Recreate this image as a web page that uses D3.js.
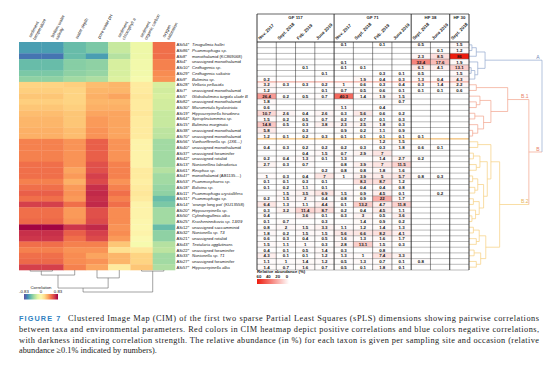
<!DOCTYPE html>
<html><head><meta charset="utf-8">
<script src="https://cdn.jsdelivr.net/npm/d3@7"></script>
<style>body{margin:0;background:#fff} svg{display:block}</style>
</head><body>
<svg id="c" width="554" height="367"></svg>
<script>
const envParams = [["sediment","temperature"],["bottom water","salinity"],["water depth",""],["pore water pH",""],["sediment","chlorophyll a"],["sediment","organic carbon"],["oxygen","saturation"]];
const taxaCodes = ["ASi54*","ASi86*","ASi8*","ASi4*","ASi10*","ASi29*","ASi9*","ASi28*","ASi7*","ASi5*","ASi82*","ASi30*","ASi19*","ASi64*","ASi15*","ASi38*","ASi70*","ASi56*","ASi40*","ASi37*","ASi42*","ASi13*","ASi61*","ASi47*","ASi53*","ASi18*","ASi11*","ASi31*","ASi14*","ASi20*","ASi50*","ASi25*","ASi12*","ASi32*","ASi21*","ASi43*","ASi22*","ASi33*","ASi27*","ASi57*"];
const taxaNames = ["Tinogullmia hallei","Psammophaga sp.","monothalamid (KC869068)","unassigned monothalamid","Cedhagenia sp.","Cedhagenia saltatrix","Bulimina sp.","Vellaria pellucida","unassigned monothalamid","Globobulimina turgida clade B","unassigned monothalamid","Micrometula hyalostriata","Hippocrepinella hirudinea","Spiroplectammina sp.","Bulimina marginata","unassigned monothalamid","unassigned monothalamid","Vanhoeffenella sp. (JX6…)","unassigned monothalamid","unassigned foraminifer","unassigned rotaliid","Nonionellina labradorica","Reophax sp.","monothalamid (AB1135…)","Psammosphaera sp.","Bolivina sp.","Psammophaga crystallifera","Psammophaga sp.","'orange long pot' (KU13558)","Hippocrepinella sp.","Cylindrogullmia alba","Krasheninnikovia sp. 13/09","unassigned saccamminid","Nonionella sp. T3","unassigned rotaliid","Textularia agglutinans","unassigned foraminifer","Nonionella sp. T1","unassigned foraminifer","Hippocrepinella alba"];
const clusterOf = ["A","A","A","A","A","A","A","B.1","B.1","B.1","B.1","B.1","B.1","B.1","B.1","B.1","B.1","B.2","B.2","B.2","B.2","B.2","B.2","B.2","B.2","B.2","B.2","B.2","B.2","B.2","B.2","B.2","B.2","B.2","B.2","B.2","B.2","B.2","B.2","B.2"];
const corr = [
[-0.6,-0.6,-0.5,-0.45,-0.25,-0.1,0.5],
[-0.6,-0.6,-0.5,-0.45,-0.25,-0.1,0.5],
[-0.72,-0.72,-0.5,-0.6,-0.3,-0.1,0.5],
[-0.5,-0.5,-0.42,-0.4,-0.2,-0.08,0.45],
[-0.5,-0.5,-0.42,-0.4,-0.2,-0.08,0.45],
[-0.45,-0.45,-0.4,-0.38,-0.2,-0.08,0.42],
[-0.4,-0.4,-0.35,-0.32,-0.18,-0.05,0.4],
[0.2,0.2,0.22,0.28,0.3,0.1,-0.2],
[0.22,0.22,0.2,0.3,0.3,0.1,-0.22],
[0.25,0.25,0.2,0.32,0.35,0.12,-0.2],
[0.22,0.22,0.2,0.3,0.3,0.1,-0.22],
[0.25,0.25,0.22,0.32,0.32,0.1,-0.22],
[0.28,0.28,0.25,0.35,0.35,0.12,-0.25],
[0.3,0.3,0.25,0.38,0.35,0.1,-0.25],
[0.3,0.3,0.25,0.38,0.35,0.1,-0.25],
[0.32,0.32,0.28,0.4,0.35,0.1,-0.28],
[0.32,0.32,0.28,0.4,0.35,0.1,-0.28],
[0.45,0.45,0.4,0.55,0.4,0.05,-0.35],
[0.45,0.45,0.4,0.55,0.4,0.05,-0.35],
[0.45,0.45,0.4,0.55,0.4,0.05,-0.35],
[0.45,0.45,0.4,0.55,0.4,0.05,-0.35],
[0.5,0.5,0.4,0.6,0.45,0.05,-0.35],
[0.5,0.5,0.35,0.6,0.45,0.1,-0.3],
[0.5,0.5,0.38,0.65,0.45,0.1,-0.35],
[0.45,0.45,0.32,0.62,0.4,0.08,-0.35],
[0.5,0.5,0.38,0.7,0.45,0.1,-0.38],
[0.55,0.55,0.4,0.72,0.5,0.12,-0.4],
[0.5,0.5,0.38,0.7,0.45,0.1,-0.5],
[0.65,0.65,0.5,0.72,0.5,0.05,-0.45],
[0.5,0.5,0.38,0.6,0.42,0.05,-0.35],
[0.5,0.5,0.38,0.6,0.42,0.05,-0.35],
[0.52,0.52,0.4,0.62,0.42,0.03,-0.35],
[0.82,0.82,0.68,0.72,0.4,0.02,-0.5],
[0.7,0.7,0.55,0.65,0.42,0.05,-0.4],
[0.68,0.68,0.5,0.62,0.38,0.0,-0.4],
[0.5,0.5,0.45,0.45,0.25,-0.05,-0.3],
[0.45,0.45,0.4,0.4,0.15,0.12,-0.28],
[0.5,0.5,0.42,0.35,0.3,0.2,-0.35],
[0.52,0.52,0.42,0.4,0.3,0.2,-0.35],
[0.65,0.65,0.45,0.35,0.1,0.25,-0.32]
];
const sites = ["GF 117","GF 71","HF 38","HF 30"];
const siteCols = [4,4,2,1];
const dates = ["Nov. 2017","Sept. 2018","Feb. 2019","June 2019","Nov. 2017","Sept. 2018","Feb. 2019","June 2019","Sept. 2018","June 2019","Sept. 2018"];
const n = null;
const abund = [
[n,n,n,n,0.1,n,0.1,n,0.5,n,1.5],
[n,n,n,n,n,n,n,n,n,0.1,1.2],
[n,n,n,n,n,n,n,n,2.3,8.5,86],
[n,n,n,n,0.1,n,n,n,32.4,17.6,1.9],
[n,n,0.1,n,0.1,0.1,n,n,6.1,4.1,13.1],
[n,n,n,0.1,n,n,0.3,0.1,0.5,n,1.5],
[0.2,n,n,n,n,1.9,0.4,0.3,1.3,0.4,4.3],
[3.2,0.3,0.3,0.2,1,0.6,0.3,0.4,0.3,1.4,2.2],
[1.2,n,n,0.1,0.7,0.5,0.6,0.1,0.1,0.1,0.6],
[26.4,0.2,0.5,0.7,40.3,1.4,1.9,1.5,n,n,n],
[1.8,n,n,n,n,n,n,0.7,n,n,n],
[0.6,n,n,n,1.1,n,0.4,n,n,n,n],
[10.7,2.6,0.4,2.6,0.3,5.6,0.6,0.2,n,n,n],
[1.5,0.2,0.5,0.7,0.2,0.7,0.1,0.3,n,n,n],
[14.8,0.5,0.3,3.8,2.3,2.5,1.8,0.3,n,n,n],
[5.8,n,0.3,n,0.9,0.2,1.1,0.9,n,n,n],
[1.2,0.1,0.2,0.3,0.1,0.1,0.1,0.1,0.1,n,n],
[n,n,n,n,n,n,1.2,1.5,n,n,n],
[0.4,0.3,0.2,0.2,0.2,0.3,0.3,1.8,0.6,0.1,n],
[n,n,0.4,1.5,0.7,2.9,7,n,n,n,n],
[0.2,0.4,1.3,0.1,1.3,n,1.4,2.7,0.2,n,n],
[2.7,0.3,0.7,n,0.8,3.9,7,11.5,n,n,n],
[n,n,n,0.2,0.8,0.8,1.8,1.6,n,n,n],
[1,0.3,0.4,7,1,3.9,5,5.7,0.8,0.3,n],
[0.1,0.1,0.3,0.1,n,8.3,8.7,1.2,n,n,n],
[0.1,0.2,1.1,0.1,n,0.4,0.4,0.8,n,n,n],
[n,1.5,3.5,6.9,1.5,0.9,4.5,0.1,n,0.2,n],
[0.2,1.5,2,0.4,0.8,0.9,22,1.7,n,n,n],
[6.4,1.3,1.1,4.4,0.1,13.2,4.7,11.8,n,n,n],
[0.3,3.2,11.4,8.7,0.2,0.4,4.5,1.1,n,n,n],
[0.4,n,3.6,0.1,0.3,3,0.5,3.6,n,n,n],
[0.1,0.7,n,0.3,n,1.4,0.9,0.2,n,n,n],
[0.8,2,1.5,3.3,1.1,1.2,1.4,1.3,n,n,n],
[1.8,0.2,1.5,1.5,5.6,6.6,8.2,4.1,n,n,n],
[0.6,0.3,0.4,0.5,1.6,1.3,1.6,1.7,n,n,n],
[1.5,1.1,1,0.3,2.8,13.1,1.5,0.3,n,n,n],
[0.4,0.1,0.5,1.4,0.3,n,0.8,n,n,n,n],
[4.3,0.1,0.1,1.2,1.3,1,7.4,3.3,n,n,n],
[1.1,1,1.4,1.2,0.5,1.3,0.7,0.1,0.8,n,n],
[1.4,0.7,1.6,0.7,0.5,0.1,1.8,0.1,n,n,n]
];
// dendrograms: [height, left, right], leaves = row/column index
const rowTree = [1,
  [0.22,[0.1,[0.04,0,1],2],[0.12,3,[0.08,[0.03,4,5],6]]],
  [0.82,
    [0.53,[0.1,7,8],[0.3,[0.15,9,[0.1,10,11]],[0.2,[0.08,12,13],[0.12,14,[0.05,15,16]]]]],
    [0.42,
      [0.3,[0.12,17,18],[0.25,[0.15,[0.06,19,20],[0.1,21,22]],[0.2,[0.12,[0.05,23,24],[0.08,25,26]],[0.14,[0.06,27,28],[0.09,29,[0.04,30,31]]]]]],
      [0.23,[0.14,[0.06,32,33],[0.1,34,35]],[0.16,[0.07,36,37],[0.1,38,39]]]
    ]
  ]
];
const colTree = [1,[0.82,[0.23,[0.05,0,1],2],[0.36,3,4]],[0.05,5,6]];
// [label, own node height, parent node height]
const clusterLabels = [["A",0.22,1],["B.1",0.53,0.82],["B",0.82,1],["B.2",0.42,0.82]];
const corrTicks = [-0.83,0,0.83];
const abundTicks = [60,40,20,0];
const caption = [
 "Clustered Image Map (CIM) of the first two sparse Partial Least Squares (sPLS) dimensions showing pairwise correlations",
 "between taxa and environmental parameters. Red colors in CIM heatmap depict positive correlations and blue colors negative correlations,",
 "with darkness indicating correlation strength. The relative abundance (in %) for each taxon is given per sampling site and occasion (relative",
 "abundance \u22650.1% indicated by numbers)."
];

const svg = d3.select("#c");
const FONT = "Liberation Sans, Arial, sans-serif";
const nR = taxaCodes.length;
const yRow = d3.scaleBand().domain(d3.range(nR)).range([42,270]);
const xHeat = d3.scaleBand().domain(d3.range(envParams.length)).range([19,175]);
const corrColor = d3.scaleSequential(t => d3.interpolateSpectral(1 - t)).domain([-0.83,0.83]);

// heatmap
const g = svg.append("g");
corr.forEach((row,i)=>row.forEach((v,j)=>{
  g.append("rect").attr("x",xHeat(j)).attr("y",yRow(i)).attr("width",xHeat.bandwidth()+0.3).attr("height",yRow.bandwidth()+0.3).attr("fill",corrColor(v));
}));
// column labels
envParams.forEach((p,j)=>{
  const t = svg.append("text").attr("transform",`translate(${xHeat(j)+xHeat.bandwidth()/2+3},39) rotate(-62)`).attr("font-family",FONT).attr("font-size",4.3).attr("fill","#222");
  t.append("tspan").attr("x",0).attr("dy",p[1]? -2.5:0).text(p[0]);
  if(p[1]) t.append("tspan").attr("x",0).attr("dy",5).text(p[1]);
});
// row labels
taxaCodes.forEach((c,i)=>{
  const y = yRow(i)+yRow.bandwidth()/2+1.5;
  svg.append("text").attr("x",176.5).attr("y",y).attr("font-family",FONT).attr("font-size",4.2).attr("fill","#222").text(c);
  const nm = taxaNames[i];
  const upright = /^(unassigned|monothalamid|')/.test(nm);
  svg.append("text").attr("x",192).attr("y",y).attr("font-family",FONT).attr("font-size",4.2).attr("font-style",upright?"normal":"italic").attr("fill","#222").text(nm);
});

// dendrogram helper
function drawTree(tree, leafPos, hScale, horizontal, colorFn, parentG, sw, store){
  function walk(node){
    if(typeof node === "number") return {pos:leafPos(node), h:0, leaves:[node]};
    const a = walk(node[1]), b = walk(node[2]);
    const res = {pos:(a.pos+b.pos)/2, h:node[0], leaves:a.leaves.concat(b.leaves)};
    if(store) store[node[0]] = res.pos;
    const col = colorFn(res.leaves);
    [a,b].forEach(ch=>{
      const c2 = colorFn(ch.leaves);
      if(horizontal) parentG.append("line").attr("x1",hScale(ch.h)).attr("x2",hScale(res.h)).attr("y1",ch.pos).attr("y2",ch.pos).attr("stroke",c2).attr("stroke-width",sw);
      else parentG.append("line").attr("y1",hScale(ch.h)).attr("y2",hScale(res.h)).attr("x1",ch.pos).attr("x2",ch.pos).attr("stroke",c2).attr("stroke-width",sw);
    });
    if(horizontal) parentG.append("line").attr("x1",hScale(res.h)).attr("x2",hScale(res.h)).attr("y1",a.pos).attr("y2",b.pos).attr("stroke",col).attr("stroke-width",sw);
    else parentG.append("line").attr("y1",hScale(res.h)).attr("y2",hScale(res.h)).attr("x1",a.pos).attr("x2",b.pos).attr("stroke",col).attr("stroke-width",sw);
    return res;
  }
  return walk(tree);
}
const clColor = {"A":"#93a9cf","B.1":"#f2a48c","B.2":"#f7cf7e"};
const clText = {"A":"#6f88b8","B.1":"#e8826a","B":"#e8826a","B.2":"#e6b556"};
// column dendrogram
const hCol = d3.scaleLinear().domain([0,1]).range([270,292]);
drawTree(colTree, j=>xHeat(j)+xHeat.bandwidth()/2, hCol, false, ()=>"#666", svg.append("g"), 0.6);

// row dendrogram
const hRow = d3.scaleLinear().domain([0,1]).range([469,542]);
const nodesPos = {};
function rowColor(leaves){ return clColor[clusterOf[leaves[0]]]; }
drawTree(rowTree, i=>yRow(i)+yRow.bandwidth()/2, hRow, true, rowColor, svg.append("g"), 0.7, nodesPos);
clusterLabels.forEach(([lab,h,ph])=>{
  svg.append("text").attr("x",hRow(ph)-4).attr("y",nodesPos[h]-1.3).attr("text-anchor","middle").attr("font-family",FONT).attr("font-size",5).attr("fill",clText[lab]).text(lab);
});

// table
const xTab = d3.scaleBand().domain(d3.range(dates.length)).range([257,469]);
const abColor = d3.scaleLinear().domain([0,60]).range(["#ffffff","#ee1c0e"]).clamp(true);
const tg = svg.append("g");
abund.forEach((row,i)=>row.forEach((v,j)=>{
  if(v===null) return;
  tg.append("rect").attr("x",xTab(j)).attr("y",yRow(i)).attr("width",xTab.bandwidth()).attr("height",yRow.bandwidth()).attr("fill",abColor(v));
  tg.append("text").attr("x",xTab(j)+xTab.bandwidth()/2).attr("y",yRow(i)+yRow.bandwidth()/2+1.6).attr("text-anchor","middle").attr("font-family",FONT).attr("font-weight","bold").attr("font-size",4.4).attr("fill","#111").text(v);
}));
// horizontal lines
for(let i=0;i<=nR;i++){
  const y = i<nR? yRow(i): 270;
  const boundary = i>0 && i<nR && clusterOf[i]!==clusterOf[i-1];
  tg.append("line").attr("x1",257).attr("x2",469).attr("y1",y).attr("y2",y)
    .attr("stroke",boundary? (clusterOf[i]==="B.2"?"#e9a23b":"#e88a7a"):"#777")
    .attr("stroke-width",boundary?0.9:0.5);
}
// vertical lines
let cum = 0; const groupStarts=[0];
siteCols.forEach(c=>{cum+=c; groupStarts.push(cum);});
for(let j=0;j<=dates.length;j++){
  const x = j<dates.length? xTab(j): 469;
  const isGroup = groupStarts.includes(j);
  tg.append("line").attr("x1",x).attr("x2",x).attr("y1",isGroup?14:42).attr("y2",270).attr("stroke","#222").attr("stroke-width",isGroup?0.9:0.5);
}
tg.append("line").attr("x1",257).attr("x2",469).attr("y1",14).attr("y2",14).attr("stroke","#222").attr("stroke-width",0.7);
tg.append("line").attr("x1",257).attr("x2",469).attr("y1",42).attr("y2",42).attr("stroke","#222").attr("stroke-width",0.7);
sites.forEach((s,k)=>{
  const x0 = xTab(groupStarts[k]), x1 = groupStarts[k+1]<dates.length? xTab(groupStarts[k+1]) : 469;
  tg.append("text").attr("x",(x0+x1)/2).attr("y",19).attr("text-anchor","middle").attr("font-family",FONT).attr("font-weight","bold").attr("font-size",4.4).attr("fill","#222").text(s);
});
dates.forEach((d,j)=>{
  tg.append("text").attr("transform",`translate(${xTab(j)+3},40) rotate(-45)`).attr("font-family",FONT).attr("font-weight","bold").attr("font-size",4.4).attr("fill","#222").text(d);
});

// correlation legend
const defs = svg.append("defs");
const lg = defs.append("linearGradient").attr("id","cg");
d3.range(0,1.01,0.1).forEach(t=>lg.append("stop").attr("offset",t).attr("stop-color",corrColor(-0.83+1.66*t)));
const xCL = d3.scaleLinear().domain([-0.83,0.83]).range([24,58]);
svg.append("rect").attr("x",24).attr("y",294).attr("width",34).attr("height",5.5).attr("fill","url(#cg)");
svg.append("text").attr("x",41).attr("y",288.5).attr("text-anchor","middle").attr("font-family",FONT).attr("font-size",4.3).attr("fill","#222").text("Correlation");
corrTicks.forEach(t=>svg.append("text").attr("x",xCL(t)).attr("y",293).attr("text-anchor","middle").attr("font-family",FONT).attr("font-size",4.3).attr("fill","#222").text(t));

// abundance legend
const ag = defs.append("linearGradient").attr("id","ag");
ag.append("stop").attr("offset",0).attr("stop-color",abColor(60));
ag.append("stop").attr("offset",1).attr("stop-color",abColor(0));
const xAL = d3.scaleLinear().domain([60,0]).range([259,287]);
svg.append("text").attr("x",257).attr("y",273).attr("font-family",FONT).attr("font-weight","bold").attr("font-size",4.3).attr("fill","#222").text("Relative abundance (%)");
abundTicks.forEach(t=>svg.append("text").attr("x",xAL(t)).attr("y",278).attr("text-anchor","middle").attr("font-family",FONT).attr("font-weight","bold").attr("font-size",4.3).attr("fill","#222").text(t));
svg.append("rect").attr("x",257).attr("y",279).attr("width",32).attr("height",5).attr("fill","url(#ag)");

// caption
const cap = svg.append("g").attr("font-family","Liberation Serif, Times New Roman, serif").attr("font-size",8.3).attr("fill","#222");
cap.append("text").attr("x",19).attr("y",321).attr("fill","#2f7fc1").attr("font-weight","bold").attr("letter-spacing",1.1).attr("font-family",FONT).attr("font-size",7.3).text("FIGURE 7");
const capY = [321,332,342.5,353];
caption.forEach((line,k)=>{
  const x0 = k===0? 68:19;
  const t = cap.append("text").attr("x",x0).attr("y",capY[k]).text(line);
  if(k<3) t.attr("textLength",539-x0).attr("lengthAdjust","spacing");
});
</script>
</body></html>
